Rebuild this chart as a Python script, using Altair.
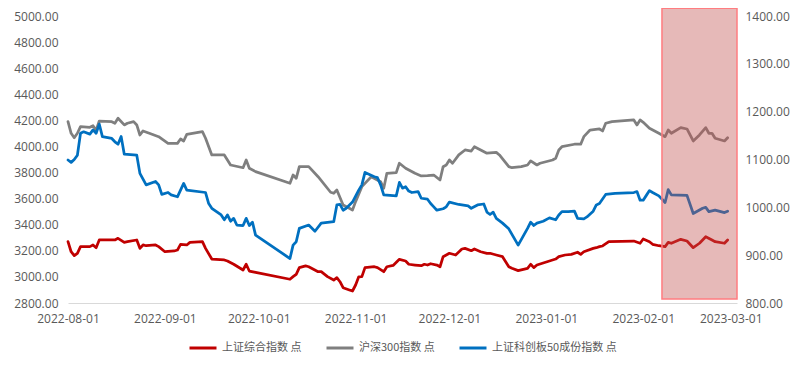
import altair as alt
import pandas as pd

# ---------------- data ----------------
names = ["上证综合指数 点", "沪深300指数 点", "上证科创板50成份指数 点"]
colors = ["#C00000", "#7F7F7F", "#0070C0"]

sh_dates = ["2022-08-01", "2022-08-02", "2022-08-03", "2022-08-04", "2022-08-05", "2022-08-08", "2022-08-09", "2022-08-10",
            "2022-08-11", "2022-08-16", "2022-08-17", "2022-08-19", "2022-08-20", "2022-08-23", "2022-08-24", "2022-08-25",
            "2022-08-26", "2022-08-29", "2022-08-30", "2022-09-01", "2022-09-04", "2022-09-05", "2022-09-06", "2022-09-08",
            "2022-09-09", "2022-09-13", "2022-09-14", "2022-09-16", "2022-09-20", "2022-09-21", "2022-09-23", "2022-09-26",
            "2022-09-27", "2022-09-28", "2022-09-30", "2022-10-11", "2022-10-12", "2022-10-13", "2022-10-14", "2022-10-16",
            "2022-10-17", "2022-10-20", "2022-10-21", "2022-10-23", "2022-10-25", "2022-10-26", "2022-10-27", "2022-10-28",
            "2022-10-30", "2022-10-31", "2022-11-01", "2022-11-02", "2022-11-03", "2022-11-04", "2022-11-07", "2022-11-08",
            "2022-11-10", "2022-11-11", "2022-11-13", "2022-11-15", "2022-11-17", "2022-11-18", "2022-11-20", "2022-11-22",
            "2022-11-23", "2022-11-24", "2022-11-25", "2022-11-27", "2022-11-28", "2022-11-29", "2022-11-30", "2022-12-01",
            "2022-12-03", "2022-12-05", "2022-12-06", "2022-12-08", "2022-12-09", "2022-12-11", "2022-12-13", "2022-12-14",
            "2022-12-16", "2022-12-18", "2022-12-20", "2022-12-21", "2022-12-23", "2022-12-26", "2022-12-27", "2022-12-28",
            "2022-12-29", "2022-12-31", "2023-01-02", "2023-01-04", "2023-01-05", "2023-01-07", "2023-01-09", "2023-01-11",
            "2023-01-12", "2023-01-13", "2023-01-16", "2023-01-17", "2023-01-18", "2023-01-19", "2023-01-21", "2023-01-29",
            "2023-01-31", "2023-02-01", "2023-02-03", "2023-02-04", "2023-02-06", "2023-02-08", "2023-02-09", "2023-02-10",
            "2023-02-13", "2023-02-15", "2023-02-17", "2023-02-19", "2023-02-21", "2023-02-23", "2023-02-24", "2023-02-27",
            "2023-02-28"]
sh_vals = [3270, 3193, 3163, 3181, 3232, 3232, 3245, 3224,
           3283, 3283, 3296, 3265, 3270, 3283, 3219, 3245,
           3239, 3245, 3232, 3193, 3199, 3206, 3250, 3245,
           3265, 3270, 3219, 3137, 3130, 3122, 3097, 3053,
           3097, 3045, 3035, 2982, 3002, 3020, 3071, 3084,
           3078, 3040, 3040, 3002, 2976, 2994, 2963, 2917,
           2900, 2892, 2938, 3001, 3002, 3071, 3078, 3071,
           3040, 3078, 3088, 3135, 3122, 3097, 3091, 3086,
           3097, 3091, 3101, 3091, 3078, 3155, 3168, 3181,
           3168, 3214, 3219, 3201, 3214, 3193, 3181, 3181,
           3168, 3155, 3078, 3066, 3048, 3066, 3097, 3071,
           3091, 3107, 3122, 3137, 3155, 3168, 3173, 3189,
           3173, 3193, 3219, 3224, 3232, 3237, 3270, 3275,
           3258, 3291, 3270, 3250, 3239, 3232, 3265, 3258,
           3288, 3275, 3224, 3258, 3308, 3283, 3270, 3258,
           3283]

hs_dates = ["2022-08-01", "2022-08-02", "2022-08-03", "2022-08-04", "2022-08-05", "2022-08-08", "2022-08-09", "2022-08-10",
            "2022-08-11", "2022-08-15", "2022-08-16", "2022-08-17", "2022-08-19", "2022-08-20", "2022-08-22", "2022-08-23",
            "2022-08-24", "2022-08-25", "2022-08-27", "2022-08-30", "2022-09-02", "2022-09-05", "2022-09-06", "2022-09-07",
            "2022-09-08", "2022-09-13", "2022-09-14", "2022-09-16", "2022-09-20", "2022-09-22", "2022-09-26", "2022-09-27",
            "2022-09-28", "2022-09-30", "2022-10-11", "2022-10-12", "2022-10-13", "2022-10-14", "2022-10-17", "2022-10-20",
            "2022-10-24", "2022-10-25", "2022-10-26", "2022-10-28", "2022-10-30", "2022-10-31", "2022-11-01", "2022-11-03",
            "2022-11-06", "2022-11-09", "2022-11-10", "2022-11-11", "2022-11-14", "2022-11-15", "2022-11-17", "2022-11-20",
            "2022-11-22", "2022-11-24", "2022-11-26", "2022-11-28", "2022-11-29", "2022-11-30", "2022-12-01", "2022-12-02",
            "2022-12-04", "2022-12-06", "2022-12-08", "2022-12-09", "2022-12-11", "2022-12-13", "2022-12-16", "2022-12-17",
            "2022-12-20", "2022-12-21", "2022-12-24", "2022-12-26", "2022-12-27", "2022-12-29", "2022-12-30", "2023-01-03",
            "2023-01-04", "2023-01-05", "2023-01-06", "2023-01-10", "2023-01-12", "2023-01-13", "2023-01-15", "2023-01-18",
            "2023-01-19", "2023-01-20", "2023-01-22", "2023-01-29", "2023-01-30", "2023-01-31", "2023-02-01", "2023-02-03",
            "2023-02-06", "2023-02-08", "2023-02-09", "2023-02-10", "2023-02-13", "2023-02-15", "2023-02-17", "2023-02-19",
            "2023-02-21", "2023-02-22", "2023-02-23", "2023-02-24", "2023-02-27", "2023-02-28"]
hs_vals = [4190, 4101, 4067, 4101, 4152, 4147, 4159, 4124,
           4195, 4190, 4178, 4216, 4165, 4178, 4190, 4165,
           4088, 4119, 4101, 4075, 4024, 4024, 4057, 4042,
           4093, 4113, 4063, 3935, 3935, 3858, 3837, 3896,
           3833, 3807, 3718, 3781, 3756, 3845, 3845, 3768,
           3649, 3641, 3666, 3551, 3526, 3513, 3577, 3692,
           3768, 3730, 3679, 3794, 3799, 3871, 3833, 3794,
           3774, 3776, 3781, 3743, 3845, 3858, 3896, 3871,
           3935, 3973, 3965, 3998, 3973, 3948, 3955, 3935,
           3845, 3837, 3845, 3858, 3889, 3858, 3871, 3896,
           3909, 3973, 3998, 4017, 4017, 4075, 4126, 4134,
           4119, 4178, 4190, 4203, 4165, 4203, 4185, 4139,
           4101, 4075, 4126, 4101, 4144, 4134, 4042, 4088,
           4144, 4101, 4101, 4063, 4042, 4067]

kc_dates = ["2022-08-01", "2022-08-02", "2022-08-03", "2022-08-04", "2022-08-05", "2022-08-06", "2022-08-08", "2022-08-09",
            "2022-08-10", "2022-08-11", "2022-08-12", "2022-08-15", "2022-08-16", "2022-08-17", "2022-08-18", "2022-08-19",
            "2022-08-23", "2022-08-24", "2022-08-26", "2022-08-29", "2022-08-30", "2022-08-31", "2022-09-02", "2022-09-03",
            "2022-09-05", "2022-09-07", "2022-09-08", "2022-09-14", "2022-09-15", "2022-09-16", "2022-09-19", "2022-09-20",
            "2022-09-21", "2022-09-22", "2022-09-23", "2022-09-24", "2022-09-26", "2022-09-27", "2022-09-28", "2022-09-29",
            "2022-09-30", "2022-10-11", "2022-10-12", "2022-10-13", "2022-10-14", "2022-10-17", "2022-10-19", "2022-10-21",
            "2022-10-25", "2022-10-26", "2022-10-27", "2022-10-28", "2022-10-29", "2022-10-31", "2022-11-02", "2022-11-03",
            "2022-11-04", "2022-11-07", "2022-11-08", "2022-11-09", "2022-11-10", "2022-11-14", "2022-11-15", "2022-11-16",
            "2022-11-17", "2022-11-18", "2022-11-19", "2022-11-21", "2022-11-22", "2022-11-24", "2022-11-25", "2022-11-26",
            "2022-11-27", "2022-11-29", "2022-11-30", "2022-12-01", "2022-12-04", "2022-12-05", "2022-12-07", "2022-12-08",
            "2022-12-10", "2022-12-12", "2022-12-13", "2022-12-14", "2022-12-15", "2022-12-16", "2022-12-18", "2022-12-20",
            "2022-12-23", "2022-12-26", "2022-12-27", "2022-12-28", "2022-12-29", "2022-12-31", "2023-01-02", "2023-01-04",
            "2023-01-05", "2023-01-06", "2023-01-08", "2023-01-10", "2023-01-11", "2023-01-13", "2023-01-14", "2023-01-16",
            "2023-01-17", "2023-01-18", "2023-01-20", "2023-01-23", "2023-01-29", "2023-01-30", "2023-01-31", "2023-02-01",
            "2023-02-02", "2023-02-03", "2023-02-04", "2023-02-06", "2023-02-08", "2023-02-09", "2023-02-10", "2023-02-15",
            "2023-02-17", "2023-02-20", "2023-02-21", "2023-02-22", "2023-02-24", "2023-02-27", "2023-02-28"]
kc_vals = [1099, 1094, 1100, 1109, 1155, 1158, 1153, 1162,
           1155, 1174, 1148, 1144, 1137, 1132, 1148, 1111,
           1109, 1071, 1047, 1054, 1047, 1027, 1031, 1026,
           1022, 1050, 1036, 1031, 1008, 998, 984, 974,
           984, 971, 977, 963, 962, 977, 962, 969,
           942, 893, 921, 928, 956, 963, 950, 967,
           970, 1005, 1006, 994, 998, 1011, 1036, 1047,
           1073, 1064, 1062, 1047, 1026, 1024, 1052, 1040,
           1043, 1034, 1031, 1033, 1019, 1017, 1008, 1001,
           994, 997, 1001, 1011, 1006, 1005, 1003, 998,
           1005, 1007, 990, 985, 990, 977, 967, 955,
           921, 956, 969, 962, 967, 971, 978, 974,
           984, 991, 991, 992, 977, 976, 980, 992,
           1005, 1008, 1027, 1029, 1031, 1033, 1015, 1015,
           1025, 1035, 1031, 1024, 1010, 1037, 1026, 1025,
           987, 998, 1000, 991, 994, 989, 992]

left_ticks = [2800, 3000, 3200, 3400, 3600, 3800, 4000, 4200, 4400, 4600, 4800, 5000]
right_ticks = [800, 900, 1000, 1100, 1200, 1300, 1400]
month_ticks = [(2022, 8), (2022, 9), (2022, 10), (2022, 11), (2022, 12), (2023, 1), (2023, 2), (2023, 3)]

# highlight box (annotation), in left-axis units
box_x = ["2023-02-07", "2023-03-03"]
box_y = [2831, 5060]

# ---------------- build tables ----------------
rows = []
for nm, ds, vs in [(names[0], sh_dates, sh_vals), (names[1], hs_dates, hs_vals), (names[2], kc_dates, kc_vals)]:
    for d, v in zip(ds, vs):
        rows.append({"date": d, "value": v, "series": nm})
df = pd.DataFrame(rows)
box_df = pd.DataFrame({"x0": [box_x[0]], "x1": [box_x[1]], "y0": [box_y[0]], "y1": [box_y[1]]})

LABEL_FONT = "Open Sans"
LABEL_COLOR = "#595959"

x_scale = alt.Scale(type="utc", domain=[alt.DateTime(year=2022, month=8, date=1, utc=True),
                                         alt.DateTime(year=2023, month=3, date=3, utc=True)])
x_axis = alt.Axis(values=[alt.DateTime(year=y, month=m, date=1, utc=True) for y, m in month_ticks],
                  labelExpr="utcFormat(datum.value, '%Y-%m-%d')", ticks=False, grid=False,
                  domainColor="#D9D9D9", domainWidth=1, labelColor=LABEL_COLOR, labelFont=LABEL_FONT,
                  labelFontSize=12, labelPadding=10, labelOverlap=False, labelFlush=False)

color = alt.Color("series:N", scale=alt.Scale(domain=names, range=colors),
                  legend=alt.Legend(orient="none", legendX=120, legendY=317, direction="horizontal",
                                    title=None, symbolType="stroke", symbolSize=729, symbolStrokeWidth=3,
                                    labelFont="Noto Sans CJK SC", labelFontSize=11, labelColor=LABEL_COLOR,
                                    labelOffset=4, columnPadding=18, padding=0))

left_scale = alt.Scale(domain=[2800, 5000], nice=False, zero=False)

left_lines = alt.Chart(df).transform_filter(
    alt.FieldOneOfPredicate(field="series", oneOf=names[:2])
).mark_line(strokeWidth=2.75, strokeJoin="round", strokeCap="round").encode(
    x=alt.X("date:T", scale=x_scale, axis=x_axis, title=None),
    y=alt.Y("value:Q", scale=left_scale, title=None,
            axis=alt.Axis(orient="left", values=left_ticks, format=".2f", ticks=False, domain=False, grid=False,
                          labelColor=LABEL_COLOR, labelFont=LABEL_FONT, labelFontSize=12, labelPadding=10)),
    color=color,
)

right_line = alt.Chart(df).transform_filter(
    alt.FieldEqualPredicate(field="series", equal=names[2])
).mark_line(strokeWidth=2.75, strokeJoin="round", strokeCap="round").encode(
    x=alt.X("date:T", scale=x_scale, axis=x_axis, title=None),
    y=alt.Y("value:Q", scale=alt.Scale(domain=[800, 1400], nice=False, zero=False), title=None,
            axis=alt.Axis(orient="right", values=right_ticks, format=".2f", ticks=False, domain=False, grid=False,
                          labelColor=LABEL_COLOR, labelFont=LABEL_FONT, labelFontSize=12, labelPadding=8)),
    color=color,
)

box = alt.Chart(box_df).mark_rect(fill="#C0504D", fillOpacity=0.4, stroke="#FF7C80", strokeWidth=1.5).encode(
    x=alt.X("x0:T", scale=x_scale, axis=x_axis, title=None),
    x2="x1:T",
    y=alt.Y("y0:Q", scale=left_scale, axis=None),
    y2="y1:Q",
)

chart = alt.layer(left_lines, right_line, box).resolve_scale(y="independent").properties(
    width=669, height=287,
    autosize=alt.AutoSizeParams(type="none"),
    padding={"left": 60, "top": 8, "right": 55, "bottom": 56},
    background="white",
).configure_view(stroke=None)

chart.save("out.html", embed_options={"renderer": "svg", "actions": False})
